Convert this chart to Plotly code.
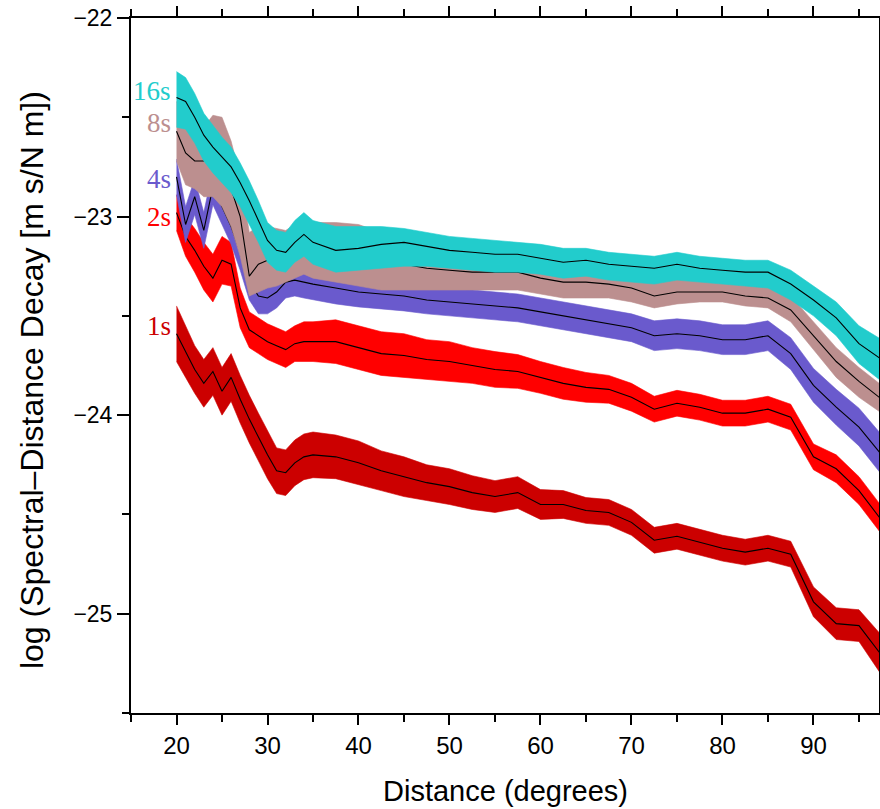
import plotly.graph_objects as go

# Distance grid (degrees)
dist = [20, 21, 22, 23, 24, 25, 26, 27, 28, 29, 30, 31, 32, 33, 34, 35, 37.5, 40, 42.5, 45,
        47.5, 50, 52.5, 55, 57.5, 60, 62.5, 65, 67.5, 70, 72.5, 75, 77.5, 80, 82.5, 85,
        87.5, 90, 92.5, 95, 97.5]

# 16 s
c16 = [-22.40, -22.42, -22.50, -22.59, -22.65, -22.70, -22.75, -22.83, -22.92, -23.02, -23.12, -23.17,
       -23.18, -23.13, -23.09, -23.13, -23.17, -23.16, -23.14, -23.13, -23.15, -23.17, -23.18, -23.19,
       -23.19, -23.21, -23.23, -23.22, -23.24, -23.25, -23.26, -23.24, -23.26, -23.27, -23.28, -23.28,
       -23.34, -23.42, -23.51, -23.64, -23.72]
hi16 = [-22.27, -22.30, -22.38, -22.48, -22.54, -22.60, -22.65, -22.73, -22.82, -22.92, -23.03, -23.07,
        -23.08, -23.02, -22.98, -23.02, -23.05, -23.05, -23.05, -23.06, -23.08, -23.10, -23.11, -23.12,
        -23.13, -23.14, -23.16, -23.16, -23.18, -23.19, -23.20, -23.18, -23.20, -23.21, -23.22, -23.22,
        -23.27, -23.35, -23.43, -23.55, -23.62]
lo16 = [-22.55, -22.56, -22.63, -22.72, -22.78, -22.83, -22.88, -22.95, -23.04, -23.13, -23.23, -23.27,
        -23.28, -23.23, -23.20, -23.24, -23.28, -23.27, -23.26, -23.25, -23.25, -23.26, -23.27, -23.28,
        -23.28, -23.29, -23.31, -23.30, -23.32, -23.33, -23.34, -23.32, -23.33, -23.34, -23.35, -23.36,
        -23.42, -23.50, -23.60, -23.74, -23.83]

# 8 s
c8 = [-22.57, -22.68, -22.72, -22.72, -22.70, -22.74, -22.86, -23.00, -23.30, -23.24, -23.22, -23.22,
      -23.21, -23.18, -23.16, -23.17, -23.19, -23.20, -23.22, -23.24, -23.26, -23.27, -23.28, -23.28,
      -23.28, -23.31, -23.33, -23.33, -23.34, -23.36, -23.40, -23.38, -23.38, -23.38, -23.40, -23.41,
      -23.47, -23.60, -23.73, -23.83, -23.92]
hi8 = [-22.42, -22.50, -22.56, -22.55, -22.49, -22.50, -22.62, -22.80, -23.08, -23.05, -23.05, -23.06,
       -23.07, -23.04, -23.02, -23.03, -23.03, -23.04, -23.08, -23.12, -23.15, -23.17, -23.19, -23.20,
       -23.20, -23.23, -23.25, -23.26, -23.27, -23.29, -23.33, -23.31, -23.31, -23.31, -23.33, -23.34,
       -23.40, -23.53, -23.66, -23.76, -23.85]
lo8 = [-22.72, -22.84, -22.86, -22.90, -22.90, -22.95, -23.05, -23.20, -23.40, -23.38, -23.36, -23.35,
       -23.33, -23.31, -23.29, -23.31, -23.33, -23.35, -23.37, -23.37, -23.37, -23.37, -23.37, -23.37,
       -23.37, -23.39, -23.41, -23.41, -23.41, -23.43, -23.46, -23.44, -23.43, -23.43, -23.45, -23.46,
       -23.53, -23.67, -23.81, -23.91, -23.99]

# 4 s
c4 = [-22.80, -23.04, -22.90, -23.07, -22.85, -22.95, -23.05, -23.18, -23.33, -23.40, -23.41, -23.38,
      -23.33, -23.32, -23.33, -23.34, -23.36, -23.38, -23.39, -23.40, -23.42, -23.43, -23.44, -23.45,
      -23.46, -23.48, -23.50, -23.52, -23.54, -23.56, -23.60, -23.59, -23.60, -23.62, -23.62, -23.60,
      -23.69, -23.85, -23.96, -24.06, -24.20]
e4 = [0.09, 0.09, 0.09, 0.09, 0.09, 0.09, 0.09, 0.09, 0.09, 0.09, 0.08, 0.08, 0.08, 0.08, 0.08, 0.08,
      0.08, 0.075, 0.075, 0.075, 0.07, 0.07, 0.07, 0.07, 0.07, 0.07, 0.07, 0.07, 0.07, 0.07, 0.075,
      0.075, 0.075, 0.075, 0.075, 0.075, 0.08, 0.085, 0.09, 0.095, 0.10]

# 2 s
c2 = [-22.98, -23.10, -23.17, -23.25, -23.31, -23.22, -23.24, -23.46, -23.57, -23.60, -23.63, -23.65,
      -23.67, -23.64, -23.63, -23.63, -23.63, -23.66, -23.69, -23.70, -23.72, -23.73, -23.75, -23.77,
      -23.78, -23.81, -23.84, -23.86, -23.87, -23.91, -23.97, -23.94, -23.96, -23.99, -23.99, -23.97,
      -24.01, -24.21, -24.27, -24.38, -24.53]
e2 = [0.09, 0.10, 0.11, 0.12, 0.12, 0.12, 0.11, 0.10, 0.09, 0.09, 0.09, 0.09, 0.09, 0.09, 0.10, 0.10,
      0.11, 0.11, 0.11, 0.11, 0.10, 0.10, 0.09, 0.09, 0.085, 0.08, 0.08, 0.075, 0.07, 0.07, 0.065,
      0.065, 0.065, 0.065, 0.065, 0.065, 0.065, 0.065, 0.07, 0.07, 0.07]

# 1 s
c1 = [-23.59, -23.68, -23.77, -23.84, -23.78, -23.88, -23.81, -23.92, -24.02, -24.11, -24.20, -24.28,
      -24.29, -24.24, -24.21, -24.20, -24.21, -24.24, -24.28, -24.31, -24.34, -24.36, -24.39, -24.41,
      -24.39, -24.45, -24.45, -24.48, -24.49, -24.54, -24.63, -24.61, -24.64, -24.67, -24.69, -24.67,
      -24.70, -24.94, -25.05, -25.06, -25.21]
e1 = [0.14, 0.13, 0.12, 0.12, 0.12, 0.12, 0.12, 0.12, 0.12, 0.12, 0.12, 0.115, 0.115, 0.115, 0.115,
      0.115, 0.11, 0.11, 0.10, 0.10, 0.09, 0.09, 0.085, 0.08, 0.08, 0.075, 0.07, 0.065, 0.065, 0.065,
      0.065, 0.065, 0.065, 0.065, 0.065, 0.065, 0.065, 0.075, 0.08, 0.08, 0.10]

labels = ["1s", "2s", "4s", "8s", "16s"]
colors = ["#CC0000", "#FF0000", "#6A5ACD", "#BC8F8F", "#22CCCC"]
label_y = [-23.55, -23.00, -22.81, -22.53, -22.37]

series = [
    (c1, [c + e for c, e in zip(c1, e1)], [c - e for c, e in zip(c1, e1)]),
    (c2, [c + e for c, e in zip(c2, e2)], [c - e for c, e in zip(c2, e2)]),
    (c4, [c + e for c, e in zip(c4, e4)], [c - e for c, e in zip(c4, e4)]),
    (c8, hi8, lo8),
    (c16, hi16, lo16),
]

fig = go.Figure()
for (c, hi, lo), col, name in zip(series, colors, labels):
    fig.add_trace(go.Scatter(
        x=dist + dist[::-1], y=hi + lo[::-1], fill="toself", fillcolor=col,
        mode="lines", line=dict(width=0.6, color=col), hoverinfo="skip", showlegend=False))
    fig.add_trace(go.Scatter(
        x=dist, y=c, mode="lines", line=dict(color="black", width=1.1),
        name=name, showlegend=False))

for name, col, ly in zip(labels, colors, label_y):
    fig.add_annotation(x=19.6, y=ly, xref="x", yref="y", text=name, showarrow=False,
                       xanchor="right", yanchor="middle",
                       font=dict(family="Liberation Serif, Times New Roman, serif", size=27, color=col))

fig.add_annotation(xref="paper", yref="paper", x=-0.1324, y=0.479,
                   text="log (Spectral\u2013Distance Decay [m s/N m])", textangle=-90,
                   showarrow=False, xanchor="center", yanchor="middle",
                   font=dict(family="Liberation Sans, Arial, sans-serif", size=32, color="black"))
fig.add_annotation(xref="paper", yref="paper", x=0.5, y=-0.112,
                   text="Distance (degrees)", showarrow=False, xanchor="center", yanchor="middle",
                   font=dict(family="Liberation Sans, Arial, sans-serif", size=29, color="black"))

fig.update_layout(
    width=880, height=809,
    margin=dict(l=131, r=1, t=18, b=96, autoexpand=False),
    paper_bgcolor="white", plot_bgcolor="white",
    showlegend=False,
    xaxis=dict(range=[15, 97.2], tickvals=[20, 30, 40, 50, 60, 70, 80, 90],
               ticks="outside", ticklen=10, tickwidth=1.5, tickcolor="black",
               minor=dict(dtick=5, tick0=15, ticks="outside", ticklen=7, tickwidth=1.5, tickcolor="black"),
               showline=True, linewidth=2, linecolor="black", mirror="ticks",
               showgrid=False, zeroline=False, automargin=False,
               tickfont=dict(family="Liberation Sans, Arial, sans-serif", size=24, color="black")),
    yaxis=dict(range=[-25.5, -22], tickvals=[-25, -24, -23, -22],
               ticks="outside", ticklen=12, tickwidth=1.5, tickcolor="black",
               minor=dict(dtick=0.5, tick0=-22, ticks="outside", ticklen=7, tickwidth=1.5, tickcolor="black"),
               showline=True, linewidth=2, linecolor="black", mirror=True,
               showgrid=False, zeroline=False, automargin=False,
               tickfont=dict(family="Liberation Sans, Arial, sans-serif", size=23, color="black")),
)

fig.write_html("out.html")
